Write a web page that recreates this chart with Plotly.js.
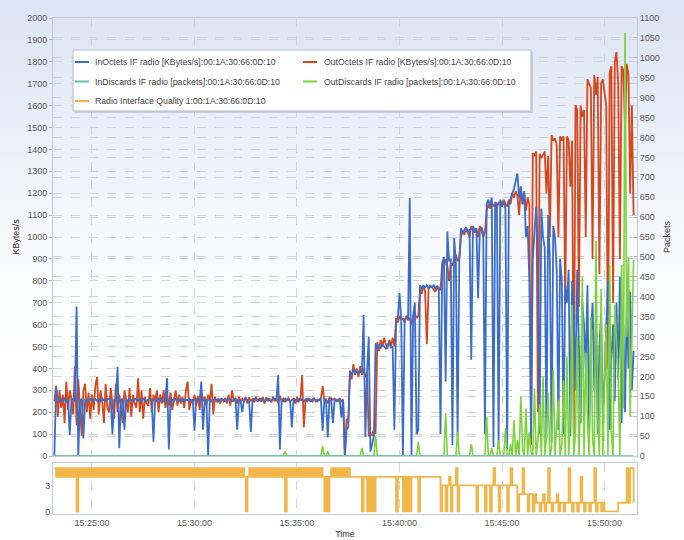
<!DOCTYPE html>
<html>
<head>
<meta charset="utf-8">
<script src="https://cdn.plot.ly/plotly-3.0.1.min.js"></script>
<style>
html,body{margin:0;padding:0;}
#chart{width:684px;height:540px;background:linear-gradient(to bottom,#dbe4f3 0%,#eef2f9 30%,#fbfcfe 52%,#ffffff 70%);}
</style>
</head>
<body>
<div id="chart"></div>
<script>
// sampling: one point every 5 s starting 15:23:10
var startTime = '2011-05-10 15:23:10';
var stepMs = 5000;

var seriesNames = [
  'InOctets IF radio [KBytes/s]:00:1A:30:66:0D:10',
  'OutOctets IF radio [KBytes/s]:00:1A:30:66:0D:10',
  'InDiscards IF radio [packets]:00:1A:30:66:0D:10',
  'OutDiscards IF radio [packets]:00:1A:30:66:0D:10',
  'Radio Interface Quality 1:00:1A:30:66:0D:10'
];

var inOctets = [
  0,310,262,250,258,252,262,248,255,95,258,262,250,682,0,255,260,80,255,250,
  258,262,250,255,260,252,258,250,262,255,250,258,262,255,100,258,250,408,36,255,
  262,120,258,250,262,255,250,258,262,252,258,250,262,255,250,258,262,255,65,258,
  250,262,255,258,250,262,355,30,258,255,250,262,258,250,255,262,250,258,255,262,
  250,258,115,262,255,250,340,120,258,255,0,260,250,258,262,255,250,258,262,255,
  250,258,262,255,250,258,262,120,255,250,200,258,262,255,250,110,258,262,255,250,
  258,262,255,250,258,262,255,250,258,262,255,370,30,258,250,262,255,258,250,130,
  262,255,250,258,262,255,250,258,262,255,250,258,262,255,250,258,262,115,255,258,
  85,258,262,150,255,258,250,262,175,258,0,120,130,385,370,395,380,390,375,388,
  380,644,87,380,545,20,60,90,515,490,505,495,510,500,490,505,520,495,500,120,
  610,630,744,625,0,620,635,625,1178,0,640,700,100,120,780,765,775,770,780,765,
  775,770,780,765,775,770,100,880,910,340,1025,890,900,50,995,880,90,900,1040,1020,
  1030,1045,1020,1035,440,1050,1030,1040,720,1030,1045,1020,100,1150,1170,1140,1180,40,1160,1150,
  40,1170,1140,1160,1130,30,1150,1180,1200,1220,1250,1290,1180,1230,1150,1210,1000,1050,800,80,
  900,1050,1140,900,100,1130,1000,950,80,1100,900,60,1050,1000,850,120,900,800,100,780,
  700,850,90,800,650,300,850,500,150,700,600,400,780,100,550,700,300,650,100,500,
  650,200,350,600,800,120,450,600,250,700,350,820,150,600,200,700,400,750,300,480
];

var outOctets = [
  250,320,180,300,220,280,150,340,210,300,260,190,408,140,350,230,90,300,330,200,
  290,170,280,210,320,360,190,300,250,150,330,220,200,310,250,170,330,200,280,230,
  150,300,260,200,310,180,280,240,220,355,200,300,170,270,240,230,310,200,280,250,
  300,200,280,240,300,220,270,230,290,210,260,300,230,280,240,270,220,300,340,210,
  260,240,280,230,275,210,300,250,270,230,280,245,330,190,270,245,265,240,262,250,
  265,240,280,230,300,250,265,240,270,250,262,248,270,240,268,250,262,245,270,250,
  262,248,270,240,268,250,262,245,270,250,262,240,275,250,262,248,255,265,250,258,
  262,240,270,250,258,370,130,258,250,262,255,248,262,250,258,255,262,320,250,258,
  240,270,255,258,262,250,258,262,250,258,0,170,150,390,350,420,370,400,360,410,
  370,400,360,380,90,100,95,120,100,520,480,530,500,540,510,490,530,500,540,500,
  630,610,640,620,630,610,640,620,630,600,640,650,630,640,760,740,780,750,510,760,
  780,770,760,750,770,760,760,880,860,900,870,800,880,870,900,920,890,900,1000,1030,
  1010,1040,1020,1000,1050,1030,1020,1040,1000,1050,1030,1000,1020,1120,1150,1130,1160,1140,1150,1130,
  1160,1150,1140,1170,1150,1140,1170,1150,1200,1180,1210,1190,1100,1230,1150,1200,1120,1180,1150,50,
  1383,1370,1390,200,1380,1360,1375,1390,1200,1370,1000,1465,1440,1450,1420,1000,1460,1440,1460,700,
  1460,1440,1230,1440,100,1603,1580,680,1600,1550,1580,1000,1720,1700,1680,900,1740,1650,1730,830,
  1700,1720,1650,1600,400,1750,1780,700,1800,1845,1700,900,1780,1760,1500,1790,1740,1200,1600,1100
];

var inDiscards = [
  0,0,0,0,0,0,0,0,0,0,0,0,0,0,0,0,0,0,0,0,
  0,0,0,0,0,0,0,0,0,0,0,0,0,0,0,0,0,0,0,0,
  0,0,0,0,0,0,0,0,0,0,0,0,0,0,0,0,0,0,0,0,
  0,0,0,0,0,0,0,0,0,0,0,0,0,0,0,0,0,0,0,0,
  0,0,0,0,0,0,0,0,0,0,0,0,0,0,0,0,0,0,0,0,
  0,0,0,0,0,0,0,0,0,0,0,0,0,0,0,0,0,0,0,0,
  0,0,0,0,0,0,0,0,0,0,0,0,0,0,0,0,0,0,0,0,
  0,0,0,0,0,0,0,0,0,0,0,0,0,0,0,0,0,0,0,0,
  0,0,0,0,0,0,0,0,0,0,0,0,0,0,0,0,0,0,0,0,
  0,0,0,0,0,0,0,0,0,0,0,0,0,0,0,0,0,0,0,0,
  0,0,0,0,0,0,0,0,0,0,0,0,0,0,0,0,0,0,0,0,
  0,0,0,0,0,0,0,0,0,0,0,0,0,0,0,0,0,0,0,0,
  0,0,0,0,0,0,0,0,0,0,0,0,0,0,0,0,0,0,0,0,
  0,0,0,0,0,0,0,0,0,0,0,0,0,0,0,0,0,0,0,0,
  0,0,0,0,0,0,0,0,0,0,0,0,0,0,0,0,0,0,0,0,
  0,0,0,0,0,0,0,0,0,0,0,0,0,0,0,0,0,0,0,0,
  0,0,0,0,0,0,0,0,0,0,0,0,0,0,0,0,0,0,0,0
];

var outDiscards = [
  0,0,0,0,0,0,0,0,0,0,0,0,0,0,0,0,0,0,0,0,
  0,0,0,0,0,0,0,0,0,0,0,0,0,0,0,0,0,0,0,0,
  0,0,0,0,0,0,0,0,0,0,0,0,0,0,0,0,0,0,0,0,
  0,0,0,0,0,0,0,0,0,0,0,0,0,0,0,0,0,0,0,0,
  0,0,0,0,0,0,0,0,0,0,0,0,0,0,0,0,0,0,0,0,
  0,0,0,0,0,0,0,0,0,0,0,0,0,0,0,0,0,0,0,0,
  0,0,0,0,0,0,0,0,0,0,0,0,0,0,0,11,0,0,0,0,
  0,0,0,0,0,0,0,0,0,0,0,0,0,0,0,0,0,25,0,0,
  12,0,0,0,0,0,0,0,0,0,0,0,0,0,0,0,0,0,0,0,
  20,0,0,0,0,0,0,0,52,0,0,0,0,0,0,0,0,0,0,0,
  0,0,0,0,0,0,0,0,0,0,0,0,0,35,0,0,0,0,0,0,
  0,0,0,0,0,0,0,0,0,108,0,0,0,0,0,0,60,0,0,0,
  0,0,0,0,30,0,0,0,0,0,0,0,0,98,0,0,20,0,0,0,
  40,0,0,0,70,0,0,30,0,90,0,40,0,150,20,0,120,0,60,10,
  0,170,0,40,130,0,200,0,50,160,0,20,215,0,80,140,0,30,190,0,
  250,0,100,380,0,60,300,0,150,450,0,260,90,0,350,40,0,540,100,0,
  420,0,200,330,0,480,60,0,380,300,200,0,480,120,1063,300,500,100,350,492
];

var quality = [
  5,4,5,4,5,4,5,4,5,4,5,4,5,0,5,4,5,4,5,4,
  5,4,5,4,5,4,5,4,5,4,5,4,5,4,5,4,5,4,5,4,
  5,4,5,4,5,4,5,4,5,4,5,4,5,4,5,4,5,4,5,4,
  5,4,5,4,5,4,5,4,5,4,5,4,5,4,5,4,5,4,5,4,
  5,4,5,4,5,4,5,4,5,4,5,4,5,4,5,4,5,4,5,4,
  5,4,5,4,5,4,5,4,5,4,5,4,0,4,5,4,5,4,5,4,
  5,4,5,4,5,4,5,4,5,4,5,4,5,4,5,0,5,4,5,4,
  5,4,5,4,5,4,5,4,5,4,5,4,5,4,5,4,5,4,0,4,
  0,4,5,4,5,4,5,4,5,4,5,4,5,4,4,4,4,4,4,4,
  0,4,4,0,4,0,4,0,4,4,4,4,4,4,4,4,4,4,4,4,
  0,4,4,4,0,4,0,4,0,4,4,4,4,0,4,4,4,4,4,4,
  4,4,4,4,4,4,0,3,3,0,3,4,0,3,3,5,0,3,3,3,
  3,3,3,3,3,3,3,0,3,3,3,3,0,3,3,0,3,5,3,3,
  0,3,3,3,3,0,3,5,3,3,3,0,2,2,5,2,2,0,2,2,
  0,2,1,1,0,1,2,0,1,5,1,0,1,1,2,0,1,1,0,1,
  1,5,1,0,1,1,0,1,4,1,0,1,1,0,1,1,5,0,1,1,
  0,1,0,0,0,0,0,0,0,0,1,1,1,1,1,5,1,5,5,1
];

var leftTicks = [0,100,200,300,400,500,600,700,800,900,1000,1100,1200,1300,1400,1500,1600,1700,1800,1900,2000];
var rightTicks = [0,50,100,150,200,250,300,350,400,450,500,550,600,650,700,750,800,850,900,950,1000,1050,1100];
var qualityTicks = [0,3];
var timeTicks = ['2011-05-10 15:25:00','2011-05-10 15:30:00','2011-05-10 15:35:00','2011-05-10 15:40:00','2011-05-10 15:45:00','2011-05-10 15:50:00'];
var timeTickText = ['15:25:00','15:30:00','15:35:00','15:40:00','15:45:00','15:50:00'];

var colors = ['#3a6ccc', '#d8461b', '#62c0b4', '#7cd23c', '#f0b64a'];

function base(vals, color, width, yaxis, shape) {
  return {
    type: 'scatter', mode: 'lines', x0: startTime, dx: stepMs, y: vals,
    line: {color: color, width: width, shape: shape || 'linear'},
    yaxis: yaxis, xaxis: 'x', showlegend: false, hoverinfo: 'skip'
  };
}

var traces = [
  Object.assign(base(outOctets, colors[1], 1.8, 'y'), {name: seriesNames[1]}),
  Object.assign(base(inOctets, colors[0], 1.8, 'y'), {name: seriesNames[0]}),
  Object.assign(base(outDiscards, colors[3], 1.6, 'y2'), {name: seriesNames[3]}),
  Object.assign(base(inDiscards, colors[2], 1.6, 'y2'), {name: seriesNames[2]}),
  Object.assign(base(quality, colors[4], 1.8, 'y3', 'hv'), {name: seriesNames[4]})
];

// layout geometry (pixels)
var L = 53, R = 47, T = 18, B = 26, W = 684, H = 540;
var pw = W - L - R, ph = H - T - B;
function px(x) { return (x - L) / pw; }
function py(y) { return (H - B - y) / ph; }

var tickFont = {family: 'Liberation Sans, Arial, sans-serif', size: 9, color: '#555'};
var gridCol = '#cfd5de';

var shapes = [
  {type: 'rect', xref: 'paper', yref: 'paper', x0: px(75), x1: px(533), y0: py(113), y1: py(52), fillcolor: 'rgba(0,0,0,0.13)', line: {width: 0}},
  {type: 'rect', xref: 'paper', yref: 'paper', x0: px(73), x1: px(531), y0: py(111), y1: py(50), fillcolor: '#ffffff', line: {color: '#b4bcc8', width: 1}}
];
var annotations = [];
var legendItems = [
  {name: seriesNames[0], color: colors[0], lx: 75, tx: 93, y: 62},
  {name: seriesNames[1], color: colors[1], lx: 303, tx: 322, y: 62},
  {name: seriesNames[2], color: colors[2], lx: 75, tx: 93, y: 81.5},
  {name: seriesNames[3], color: colors[3], lx: 303, tx: 322, y: 81.5},
  {name: seriesNames[4], color: colors[4], lx: 75, tx: 93, y: 101}
];
legendItems.forEach(function (it) {
  shapes.push({type: 'line', xref: 'paper', yref: 'paper', x0: px(it.lx), x1: px(it.lx + 14), y0: py(it.y), y1: py(it.y), line: {color: it.color, width: 2}});
  annotations.push({xref: 'paper', yref: 'paper', x: px(it.tx), y: py(it.y), xanchor: 'left', yanchor: 'middle', showarrow: false, text: it.name, font: {family: 'Liberation Sans, Arial, sans-serif', size: 8.7, color: '#444'}});
});

var layout = {
  width: W, height: H,
  margin: {l: L, r: R, t: T, b: B, pad: 0},
  paper_bgcolor: 'rgba(0,0,0,0)', plot_bgcolor: 'rgba(0,0,0,0)',
  showlegend: false,
  xaxis: {
    type: 'date', anchor: 'y3', range: ['2011-05-10 15:23:06', '2011-05-10 15:51:35'],
    tickmode: 'array', tickvals: timeTicks, ticktext: timeTickText,
    tickfont: tickFont, showgrid: true, gridcolor: gridCol, griddash: 'dash', gridwidth: 1,
    showline: true, mirror: 'all', linecolor: '#c2cad6', zeroline: false, ticks: '',
    title: {text: 'Time', font: {family: 'Liberation Sans, Arial, sans-serif', size: 9, color: '#333'}, standoff: 3},
    automargin: false
  },
  yaxis: {
    domain: [py(456), 1], range: [0, 2000], tickmode: 'array', tickvals: leftTicks,
    tickfont: tickFont, showgrid: true, gridcolor: gridCol, griddash: 'dash', zeroline: false,
    showline: true, linecolor: '#c2cad6', ticks: 'outside', ticklen: 3, tickcolor: '#b0b8c4',
    title: {text: 'KBytes/s', font: {family: 'Liberation Sans, Arial, sans-serif', size: 9, color: '#333'}, standoff: 6},
    automargin: false
  },
  yaxis2: {
    overlaying: 'y', side: 'right', anchor: 'x', range: [0, 1100], tickmode: 'array', tickvals: rightTicks,
    tickfont: tickFont, showgrid: true, gridcolor: gridCol, griddash: 'dash', zeroline: false,
    showline: true, linecolor: '#c2cad6', ticks: 'inside', ticklen: 3, tickcolor: '#b0b8c4',
    title: {text: 'Packets', font: {family: 'Liberation Sans, Arial, sans-serif', size: 9, color: '#333'}, standoff: 4},
    automargin: false
  },
  yaxis3: {
    domain: [0, py(463)], range: [-0.3, 5.6], tickmode: 'array', tickvals: qualityTicks,
    tickfont: tickFont, showgrid: false, zeroline: false,
    showline: true, mirror: true, linecolor: '#c2cad6', ticks: '', automargin: false
  },
  shapes: shapes,
  annotations: annotations
};

Plotly.newPlot('chart', traces, layout, {displayModeBar: false, staticPlot: true});
</script>
</body>
</html>
